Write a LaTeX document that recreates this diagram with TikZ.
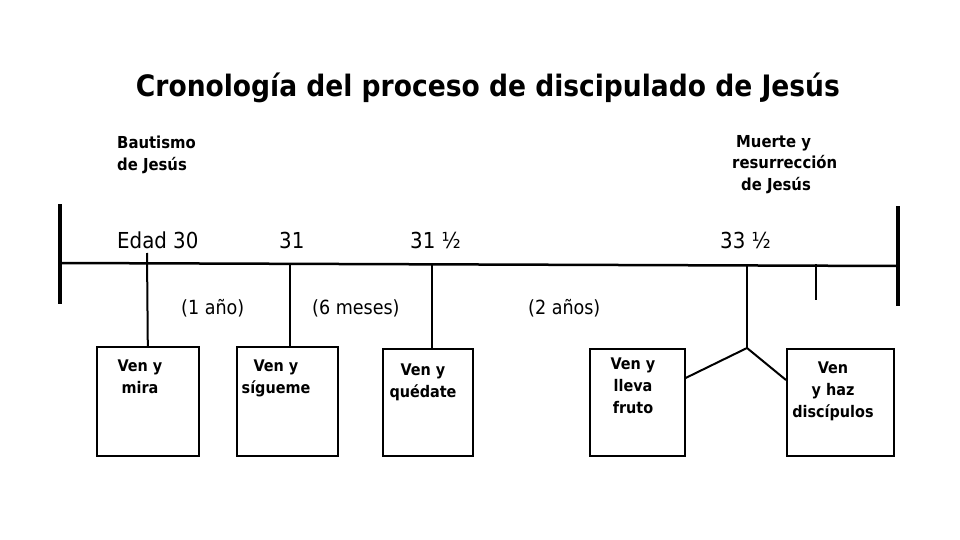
\documentclass[tikz,border=0pt]{standalone}
\usepackage{fontspec}
\setmainfont{DejaVu Sans Condensed}
\begin{document}
\begin{tikzpicture}[x=1pt,y=-1pt,
  box/.style={draw,line width=1.6pt,minimum width=#1,minimum height=108pt,inner sep=0pt},
  boxtxt/.style={font=\bfseries\fontsize{16}{22}\selectfont,align=center,anchor=north,inner sep=0pt},
  yr/.style={font=\fontsize{22}{24}\selectfont,anchor=base west,inner sep=0pt},
  dur/.style={font=\fontsize{19.5}{20}\selectfont,anchor=base west,inner sep=0pt},
  evt/.style={font=\bfseries\fontsize{16.5}{21.5}\selectfont,inner sep=0pt},
  tick/.style={line width=2pt},
  bar/.style={line width=3.5pt}]
\useasboundingbox (0,0) rectangle (960,540);
\node[font=\bfseries\fontsize{29.5}{34}\selectfont,inner sep=0pt] (title) at (488,88) {Cronología del proceso de discipulado de Jesús};
\node[evt,align=left,anchor=north west] (bau) at (117,136) {Bautismo\\de Jesús};
\node[evt,align=left,anchor=north west] (mue) at (732,135) {\hspace*{4pt}Muerte y\\resurrección\\\hspace*{9pt}de Jesús};
% timeline
\coordinate (L) at (60,263);
\coordinate (R) at (898,266);
\draw[line width=2.5pt] (L) -- (R);
\draw[bar] (60,204) -- (60,304);
\draw[bar] (898,206) -- (898,306);
% year labels
\node[yr] (y30) at (117,248) {Edad 30};
\node[yr] (y31) at (279,248) {31};
\node[yr] (y315) at (410,248) {31 ½};
\node[yr] (y335) at (720,248) {33 ½};
% durations
\node[dur] (d1) at (181,314) {(1 año)};
\node[dur] (d2) at (312,314) {(6 meses)};
\node[dur] (d3) at (528,314) {(2 años)};
% boxes
\node[box=102pt,minimum height=109pt,anchor=north west] (b1) at (96,346) {};
\node[box=101pt,minimum height=109pt,anchor=north west] (b2) at (236,346) {};
\node[box=90pt,minimum height=107pt,anchor=north west] (b3) at (382,348) {};
\node[box=95pt,minimum height=107pt,anchor=north west] (b4) at (589,348) {};
\node[box=107pt,minimum height=107pt,anchor=north west] (b5) at (786,348) {};
\node[boxtxt] (t1) at (140,360) {Ven y\\mira};
\node[boxtxt] (t2) at (276,360) {Ven y\\sígueme};
\node[boxtxt] (t3) at (423,364) {Ven y\\quédate};
\node[boxtxt] (t4) at (633,358) {Ven y\\lleva\\fruto};
\node[boxtxt] (t5) at (833,362) {Ven\\y haz\\discípulos};
% ticks
\coordinate (k1) at (147,253);
\coordinate (k2) at (290,264);
\coordinate (k3) at (432,264);
\coordinate (k4) at (747,266);
\coordinate (k5) at (816,264);
\coordinate (j) at (747,348);
\draw[tick] (k1) -- (b1.north);
\draw[tick] (k2) -- (k2 |- b2.north);
\draw[tick] (k3) -- (k3 |- b3.north);
\draw[line width=2.5pt] (k4) -- (j);
\draw[line width=2.5pt] (k5) -- (816,300);
\draw[tick] (j) -- (b4.east |- 0,378);
\draw[tick] (j) -- (b5.west |- 0,380);
\end{tikzpicture}
\end{document}
